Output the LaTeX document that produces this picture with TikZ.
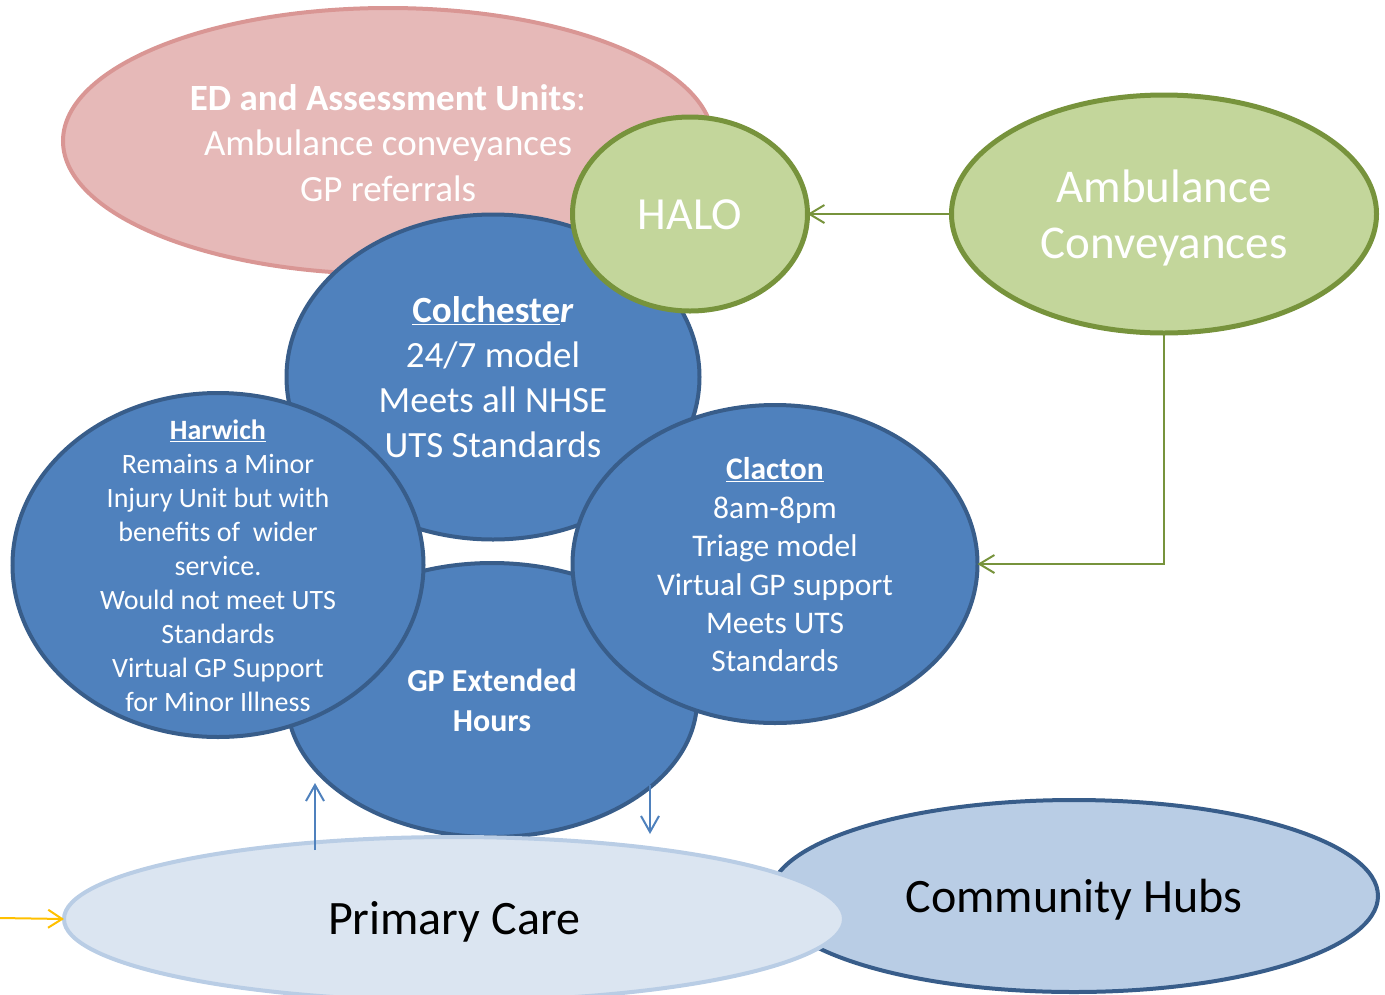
\documentclass[tikz,border=0pt]{standalone}
\usepackage{fontspec}
\setmainfont{Carlito}
\usetikzlibrary{shapes.geometric,arrows.meta}
\definecolor{pinkF}{HTML}{E6B9B8}
\definecolor{pinkD}{HTML}{D99694}
\definecolor{blueF}{HTML}{4F81BD}
\definecolor{blueD}{HTML}{385D8A}
\definecolor{greenF}{HTML}{C3D69B}
\definecolor{greenD}{HTML}{77933C}
\definecolor{pcF}{HTML}{DBE5F1}
\definecolor{pcD}{HTML}{B9CDE5}
\definecolor{chF}{HTML}{B9CDE5}
\definecolor{yel}{HTML}{FFC000}
\begin{document}
\begin{tikzpicture}[x=1pt,y=-1pt,
  ell/.style={ellipse,inner sep=0pt,outer sep=0pt,line width=4pt},
  pinkell/.style={ell,fill=pinkF,draw=pinkD},
  blueell/.style={ell,fill=blueF,draw=blueD},
  greenell/.style={ell,fill=greenF,draw=greenD,line width=5pt},
  pcell/.style={ell,fill=pcF,draw=pcD},
  chell/.style={ell,fill=chF,draw=blueD},
  wtxt/.style={text=white,align=center,inner sep=0pt},
  btxt/.style={text=black,align=center,inner sep=0pt},
  garrow/.style={draw=greenD,line width=2pt,-{Straight Barb[length=15pt,width=18pt,line width=2pt]}},
  barrow/.style={draw=blueF,line width=2pt,-{Straight Barb[length=16pt,width=18pt,line width=2pt]}},
  yarrow/.style={draw=yel,line width=2pt,-{Straight Barb[length=14pt,width=18pt,line width=2pt]}}
]
\useasboundingbox (0,0) rectangle (1385,994);
\clip (0,0) rectangle (1385,994);

% shapes
\node[pinkell,minimum width=650pt,minimum height=266pt] (ed) at (388,141) {};
\node[blueell,minimum width=413pt,minimum height=325pt] (col) at (493,377) {};
\node[greenell,minimum width=235pt,minimum height=194pt] (halo) at (690,214) {};
\node[greenell,minimum width=425pt,minimum height=238pt] (amb) at (1164,214) {};
\node[blueell,minimum width=410pt,minimum height=274pt] (gp) at (492,700) {};
\node[blueell,minimum width=411pt,minimum height=344pt] (har) at (218,565) {};
\node[blueell,minimum width=405pt,minimum height=318pt] (cla) at (775,564) {};
\node[chell,minimum width=608pt,minimum height=192pt] (ch) at (1074,896) {};
\node[pcell,minimum width=780pt,minimum height=164pt] (pc) at (454,919) {};

% texts
\node[wtxt,font=\fontsize{37}{45.5}\selectfont,yshift=-2pt] (edT) at (ed.center)
  {\textbf{ED and Assessment Units}:\\Ambulance conveyances\\GP referrals};
\node[wtxt,font=\fontsize{37}{45}\selectfont] (colT) at (col.center)
  {\textbf{\underline{Colcheste}\textit{r}}\\24/7 model\\Meets all NHSE\\UTS Standards};
\node[wtxt,font=\fontsize{46}{56}\selectfont,yshift=-1pt] (haloT) at (halo.center) {HALO};
\node[wtxt,font=\fontsize{47}{56}\selectfont,yshift=-4pt] (ambT) at (amb.center) {Ambulance\\Conveyances};
\node[wtxt,font=\fontsize{32}{40}\selectfont\bfseries] (gpT) at (gp.center) {GP Extended\\Hours};
\node[wtxt,font=\fontsize{28}{34}\selectfont,yshift=-1pt] (harT) at (har.center)
  {\textbf{\underline{Harwich}}\\Remains a Minor\\Injury Unit but with\\benefits of~ wider\\service.\\Would not meet UTS\\Standards\\Virtual GP Support\\for Minor Illness};
\node[wtxt,font=\fontsize{31.5}{38.4}\selectfont,yshift=-1pt] (claT) at (cla.center)
  {\textbf{\underline{Clacton}}\\8am-8pm\\Triage model\\Virtual GP support\\Meets UTS\\Standards};
\node[btxt,font=\fontsize{48}{58}\selectfont,yshift=-4pt] (chT) at (ch.center) {Community Hubs};
\node[btxt,font=\fontsize{48}{58}\selectfont,yshift=-3pt] (pcT) at (pc.center) {Primary Care};

% connectors
\draw[garrow] (amb.west) -- (halo.east);
\draw[garrow] (amb.south) |- (cla.east);
\coordinate (upS) at (315,850);
\coordinate (upE) at (315,783);
\coordinate (dnS) at (650,785);
\coordinate (dnE) at (650,834);
\draw[barrow] (upS) -- (upE);
\draw[barrow] (dnS) -- (dnE);
\coordinate (yS) at (0,918);
\draw[yarrow] (yS) -- (pc.west);
\end{tikzpicture}
\end{document}
